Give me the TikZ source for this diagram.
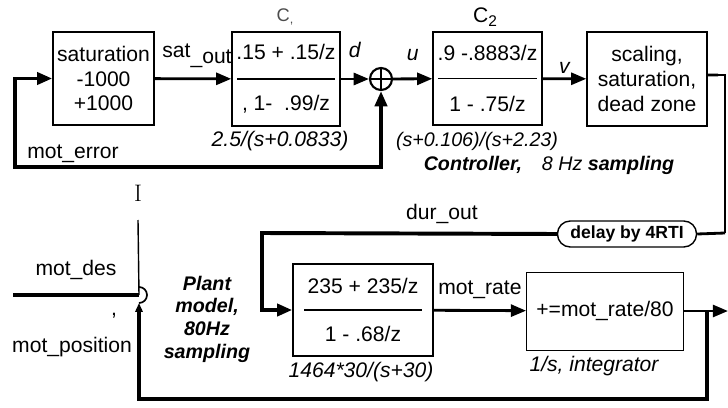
\documentclass[tikz,border=0pt]{standalone}
\usepackage{fontspec}
\setsansfont{Liberation Sans}
\usetikzlibrary{positioning,arrows.meta}

\begin{document}
\begin{tikzpicture}[x=0.025cm, y=-0.025cm,
  blk/.style={draw, line width=1pt, inner sep=0pt, align=center, font=\sffamily\fontsize{15}{17.5}\selectfont},
  lbl/.style={font=\sffamily\fontsize{15}{17.5}\selectfont, inner sep=1pt},
  ilbl/.style={font=\sffamily\itshape\fontsize{15}{17.5}\selectfont, inner sep=1pt},
  captxt/.style={font=\sffamily\itshape\fontsize{15}{17}\selectfont, inner sep=1pt},
  tip/.style={-{Triangle[length=0.38cm,width=0.3cm]}},
  arr/.style={tip, line width=2pt},
  fb/.style={line width=2.8pt}
]
\useasboundingbox (0,0) rectangle (728,407);

% controller, top row
\node[blk, minimum width=2.525cm, minimum height=2.325cm] (sat) at (103.5,78.5) {saturation\\-1000\\+1000};
\node[blk, minimum width=2.7cm, minimum height=2.35cm] (c1) at (286,79) {.15 + .15/z\\[18.5pt], 1-\ \ .99/z};
\node[draw, circle, line width=1.5pt, minimum size=0.55cm, inner sep=0pt] (sum) at (381,79) {};
\node[blk, minimum width=2.725cm, minimum height=2.325cm] (c2) at (487.5,78.5) {.9 -.8883/z\\[18.5pt]1 - .75/z};
\node[blk, minimum width=3cm, minimum height=2.35cm] (scale) at (647,79) {scaling,\\saturation,\\dead zone};

\node[font=\sffamily\fontsize{13}{13}\selectfont, text=black!70] (c1name) at (285,17) {C\raisebox{-2pt}{\fontsize{9}{9}\selectfont,}};
\node[lbl] (c2name) at (485,17) {C\raisebox{-3pt}{\fontsize{11}{11}\selectfont 2}};
\node[captxt] (c1cap) at (280,141) {2.5/(s+0.0833)};
\node[captxt, font=\sffamily\itshape\fontsize{14}{16}\selectfont] (c2cap) at (477,141) {(s+0.106)/(s+2.23)};
\node[font=\sffamily\fontsize{14}{16}\selectfont] (ctrl) at (549,165) {{\bfseries\itshape Controller,}\quad{\itshape 8 Hz} {\bfseries\itshape sampling}};

% plant, bottom row
\node[draw, rounded corners=0.32cm, line width=1pt, minimum width=3.475cm, minimum height=0.65cm, font=\sffamily\bfseries\fontsize{12.5}{14}\selectfont] (delay) at (627,234) {delay by 4RTI};
\node[blk, minimum width=3.5cm, minimum height=2.3cm] (plant) at (363,310) {235 + 235/z\\[16.5pt]1 - .68/z};
\node[blk, line width=0.6pt, minimum width=3.925cm, minimum height=1.95cm] (integ) at (605,311) {+=mot\_rate/80};
\node[captxt] (plantcap) at (361,372) {1464*30/(s+30)};
\node[captxt] (integcap) at (594,366) {1/s, integrator};
\node[align=center, font=\sffamily\bfseries\itshape\fontsize{14}{16.1}\selectfont] (plantmodel) at (207,319) {Plant\\model,\\80Hz\\sampling};

\node[lbl] (satout) at (197,56) {sat\raisebox{-0.15cm}{\_out}};
\node[lbl] (moterr) at (73,154) {mot\_error};
\node[lbl] (durout) at (442,214) {dur\_out};
\node[lbl] (comma) at (114,316) {,};
\node[lbl] (motpos) at (72,347) {mot\_position};
\node[font=\rmfamily\fontsize{17}{17}\selectfont] (stray) at (138,193) {I};

\coordinate (lb) at (15,167);
\coordinate (so) at (718,75);
\coordinate (rt) at (725,233);
\coordinate (dl) at (262,233);
\coordinate (out) at (728,311);
\coordinate (jb) at (707,311);
\coordinate (bl) at (139,399);
\coordinate (jn) at (139,295);
\coordinate (md) at (13,295);
\coordinate (top) at (138,220);

% fraction bars
\draw[line width=0.8pt] ([xshift=0.15cm]c1.west) -- ([xshift=-0.15cm]c1.east);
\draw[line width=0.8pt] ([xshift=0.15cm]c2.west) -- ([xshift=-0.15cm]c2.east);
\draw[line width=0.8pt] ([xshift=0.3cm]plant.west) -- ([xshift=-0.3cm]plant.east);
\draw[line width=1.2pt] (sum.north) -- (sum.south) (sum.west) -- (sum.east);

\draw[arr] (sat) -- (c1);
\draw[arr] (c1) -- node[ilbl, above, yshift=0.45cm] {d} (sum);
\draw[arr] (sum) -- node[ilbl, above, yshift=0.38cm] {u} (c2);
\draw[arr] (c2) -- node[ilbl, above, yshift=0.05cm] {v} (scale);
\draw[fb, {Triangle[length=0.38cm,width=0.3cm]}-{Triangle[length=0.38cm,width=0.3cm]}] (sat.west) -| (lb) -| (sum.south);

\draw[line width=2pt] ([yshift=0.1cm]scale.east) -- (so);
\draw[line width=1pt] (so) -| (rt);
\draw[line width=2pt] (rt) -- (delay.east);
\draw[fb, tip] (delay.west) -- (dl) |- (plant.west);

\draw[arr] (plant) -- node[lbl, above, yshift=0.22cm] {mot\_rate} (integ);
\draw[arr] (integ) -- (out);
\draw[fb, -{Triangle[length=0.22cm,width=0.18cm]}] (jb) |- (bl) -- ([yshift=-0.2cm]jn);
\draw[fb] (md) -- node[lbl, above, yshift=0.3cm] {mot\_des} (jn);
\draw[line width=1pt] (top) -- (jn);
\draw[line width=1.2pt] ([yshift=0.2cm]jn) arc[start angle=90, end angle=-90, radius=0.2cm];
\end{tikzpicture}
\end{document}
